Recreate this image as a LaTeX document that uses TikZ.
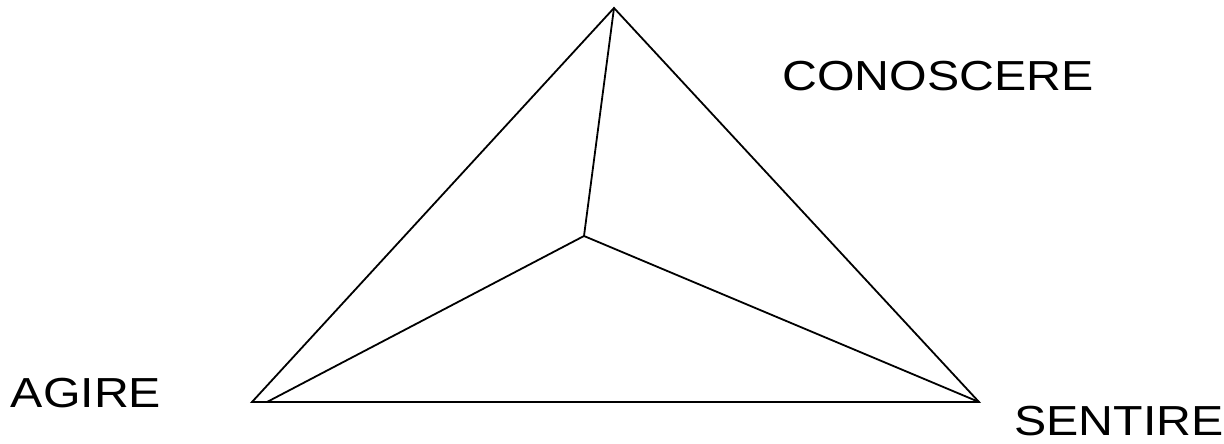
\documentclass[tikz,border=0pt]{standalone}
\usepackage{fontspec}
\setmainfont{Liberation Sans}[FakeStretch=1.15]
\usepackage{tikz}
\tikzset{
  edge/.style={draw=black,line width=1.8pt,line join=miter},
  label/.style={font=\fontsize{42}{48}\selectfont,inner sep=0pt}
}
\begin{document}
\begin{tikzpicture}[x=1pt,y=-1pt]
        \useasboundingbox (0,0) rectangle (1224,444);
        % vertices
        \coordinate (top) at (614,8);
        \coordinate (left) at (252,402);
        \coordinate (right) at (979,402);
        \coordinate (mid) at (584,236);
        \coordinate (foot) at (267,402);
        \draw[edge] (left) -- (top) -- (right) -- cycle;
        \draw[edge] (mid) -- (top);
        \draw[edge] (mid) -- (foot);
        \draw[edge] (mid) -- (right);
        \node[label] (conoscere) at (938,76) {CONOSCERE};
        \node[label] (agire) at (86,393) {AGIRE};
        \node[label] (sentire) at (1119,421) {SENTIRE};
      \end{tikzpicture}
\end{document}
